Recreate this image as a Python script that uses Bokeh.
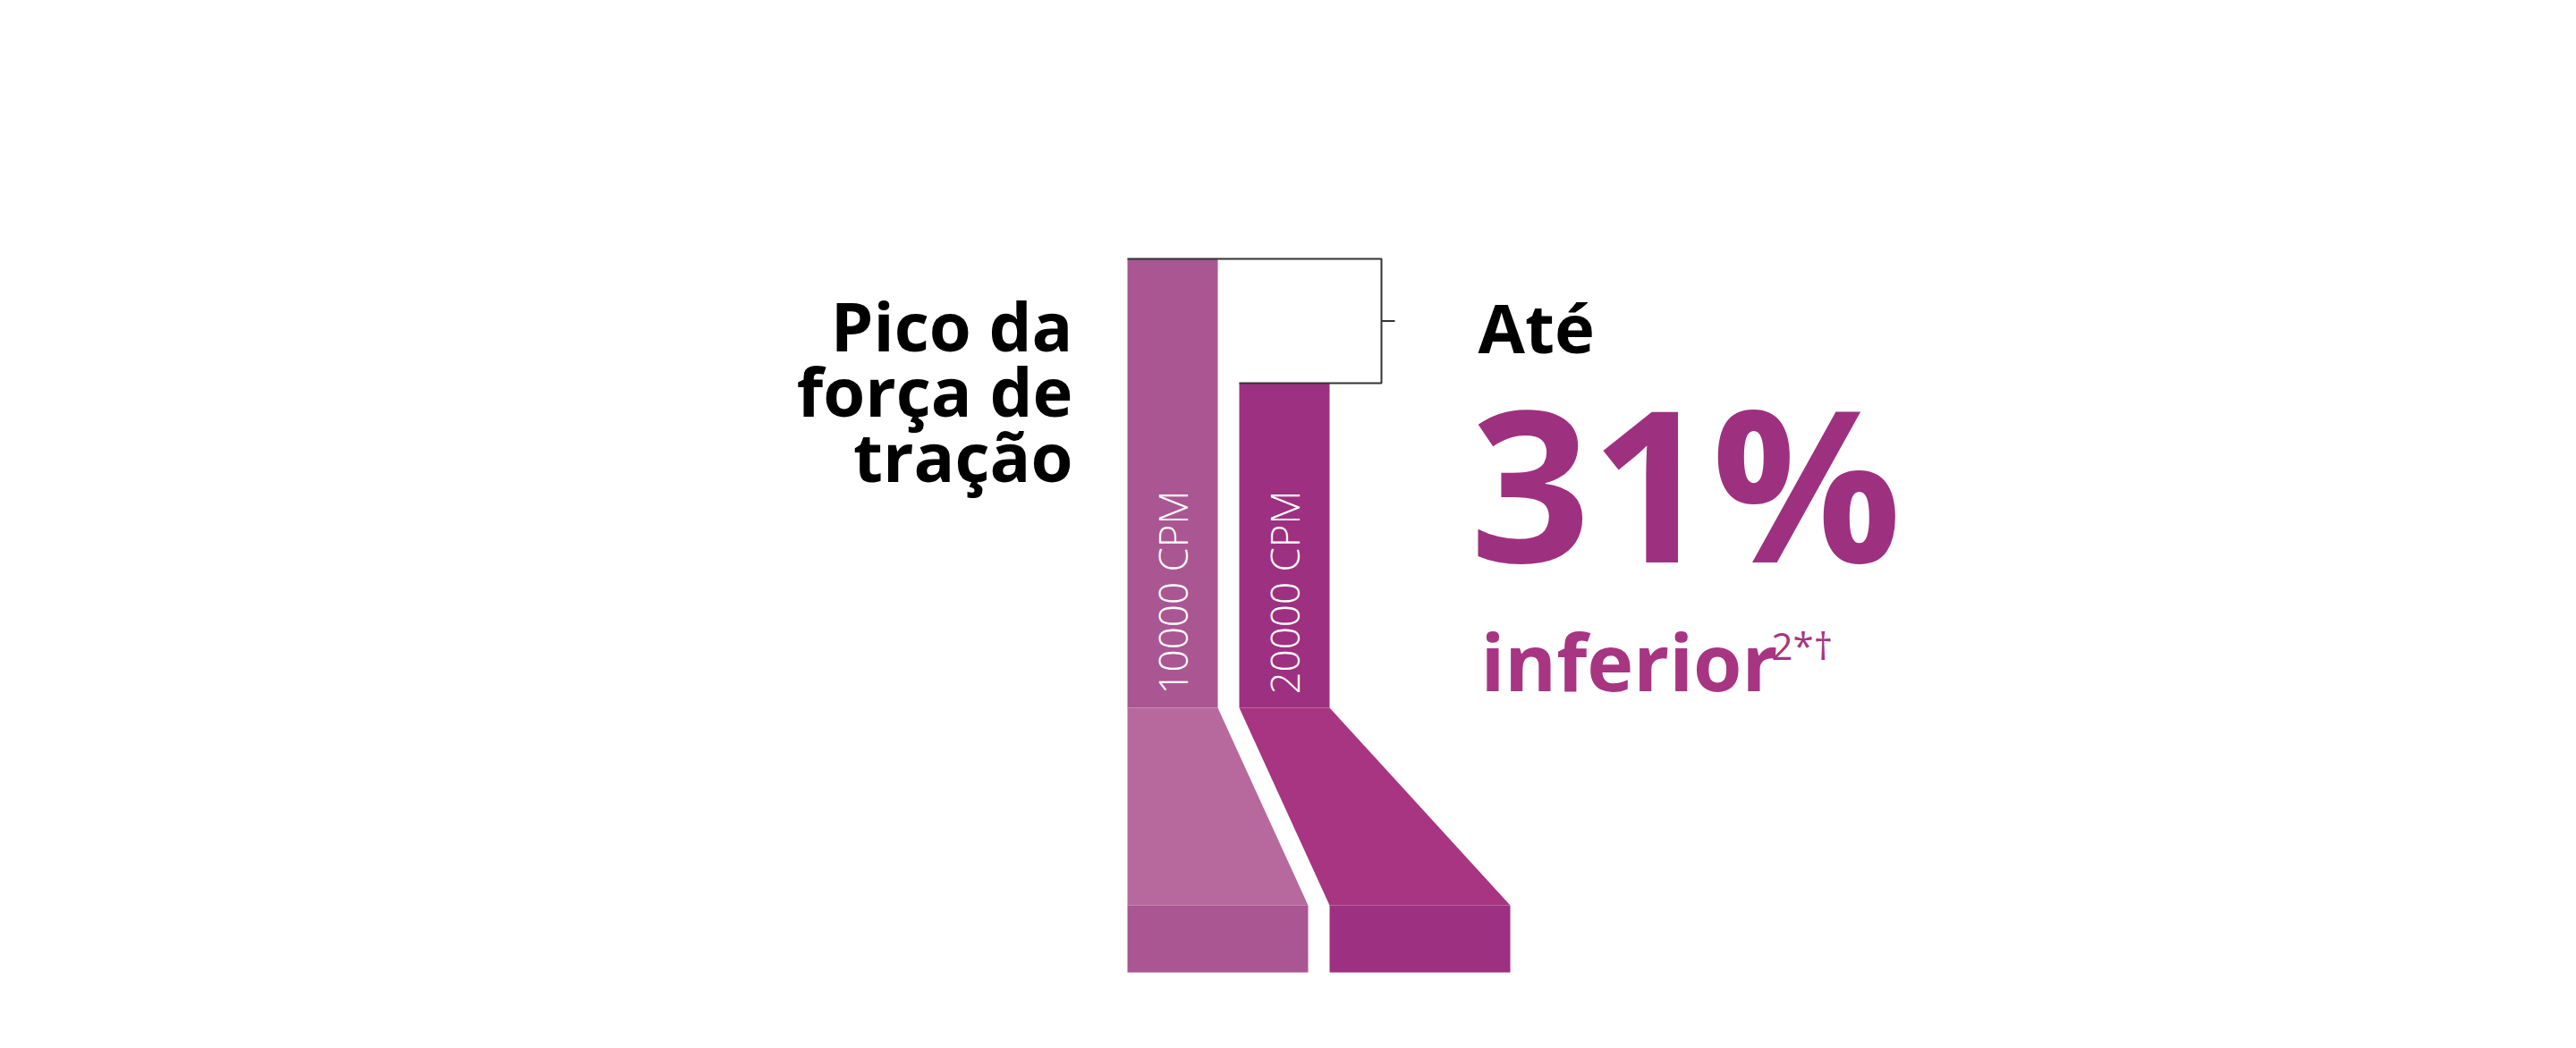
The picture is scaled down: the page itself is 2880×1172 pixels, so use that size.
import math
from bokeh.plotting import figure
from bokeh.models import Range1d, ColumnDataSource
from bokeh.core.properties import value
from bokeh.embed import file_html
from bokeh.resources import INLINE

# ---------------- data ----------------
speeds = ["10000 CPM", "20000 CPM"]
peak_force = [100.0, 72.3]          # relative peak tension force (10000 CPM = 100)
bar_colors = ["#AA5692", "#9D3080"]
base_colors = ["#B7699E", "#A73582"]
title_lines = ["Pico da", "força de", "tração"]
lead_text = "Até"
headline = "31%"
sub_text = "inferior"
sup_text = "2*\u2020"

# ---------------- layout ----------------
W, H = 2864, 1156
BASE_Y = 791          # screen px of value 0
TOP_Y = 289           # screen px of value 100
PX = 100.0 / (BASE_Y - TOP_Y)
BL = 0.37             # baseline correction (em)


def v(Y):
    return (BASE_Y - Y) * PX


def tv(Y, size):
    # y value for a text whose alphabetic baseline should sit at screen Y
    return v(Y - BL * size)


BAR_X = [1310.5, 1435.5]
BAR_W = 101
STRETCH_Y = 1012
FOOT_Y = 1087
BRACKET_X = 1544
TICK_LEN = 15
LINE_COLOR = "#333333"

p = figure(width=W, height=H, x_range=Range1d(0, W),
           y_range=Range1d(v(H), v(0)),
           output_backend="svg", toolbar_location=None, min_border=0)
p.axis.visible = False
p.grid.visible = False
p.outline_line_color = None
p.background_fill_color = "white"
p.border_fill_color = "white"

# bars
src = ColumnDataSource(dict(x=BAR_X, top=peak_force, color=bar_colors, label=speeds))
p.vbar(x="x", top="top", bottom=0, width=BAR_W, fill_color="color", line_color=None, source=src)

# stretched bases (trapezoids) and feet
xs, ys, fx, fy = [], [], [], []
for i, cx in enumerate(BAR_X):
    l, r = cx - BAR_W / 2, cx + BAR_W / 2
    bl, br = l + i * BAR_W, r + (i + 1) * BAR_W
    xs.append([l, r, br, bl])
    ys.append([0, 0, v(STRETCH_Y), v(STRETCH_Y)])
    fx.append([bl, br, br, bl])
    fy.append([v(STRETCH_Y), v(STRETCH_Y), v(FOOT_Y), v(FOOT_Y)])
p.patches(xs, ys, fill_color=base_colors, line_color=None)
p.patches(fx, fy, fill_color=bar_colors, line_color=None)

# bracket
top_v, low_v = peak_force[0], peak_force[1]
mid_v = (top_v + low_v) / 2
p.multi_line(
    xs=[[BAR_X[0] - BAR_W / 2, BRACKET_X, BRACKET_X, BAR_X[1] - BAR_W / 2],
        [BRACKET_X, BRACKET_X + TICK_LEN]],
    ys=[[top_v, top_v, low_v, low_v], [mid_v, mid_v]],
    line_color=LINE_COLOR, line_width=2)

# rotated labels inside bars
LS = 44
p.text(x=[cx + 16 - BL * LS for cx in BAR_X], y=[v(776)] * 2, text=speeds, angle=math.pi / 2,
       text_align="left", text_baseline="alphabetic", text_color="white",
       text_font=value("'Open Sans Light', 'Open Sans'"), text_font_size=f"{LS}px")

# left title
TS = 76
p.text(x=[1199] * 3, y=[tv(391, TS), tv(464, TS), tv(537, TS)], text=title_lines,
       text_align="right", text_baseline="alphabetic", text_color="black",
       text_font=value("Open Sans"), text_font_style="bold", text_font_size=f"{TS}px")

# right annotation
p.text(x=[1652], y=[tv(393, TS)], text=[lead_text], text_align="left", text_baseline="alphabetic",
       text_color="black", text_font=value("Open Sans"), text_font_style="bold",
       text_font_size=f"{TS}px")
HS = 236
p.text(x=[1643], y=[tv(624, HS)], text=[headline], text_align="left", text_baseline="alphabetic",
       text_color="#9E3080", text_font=value("Open Sans"), text_font_style="bold",
       text_font_size=f"{HS}px")
SS = 88
p.text(x=[1655], y=[tv(771, SS)], text=[sub_text], text_align="left", text_baseline="alphabetic",
       text_color="#A73582", text_font=value("Open Sans"), text_font_style="bold",
       text_font_size=f"{SS}px")
US = 42
p.text(x=[1980], y=[tv(737, US)], text=[sup_text], text_align="left", text_baseline="alphabetic",
       text_color="#A73582", text_font=value("Open Sans"), text_font_size=f"{US}px")

open("out.html", "w").write(file_html(p, INLINE))
